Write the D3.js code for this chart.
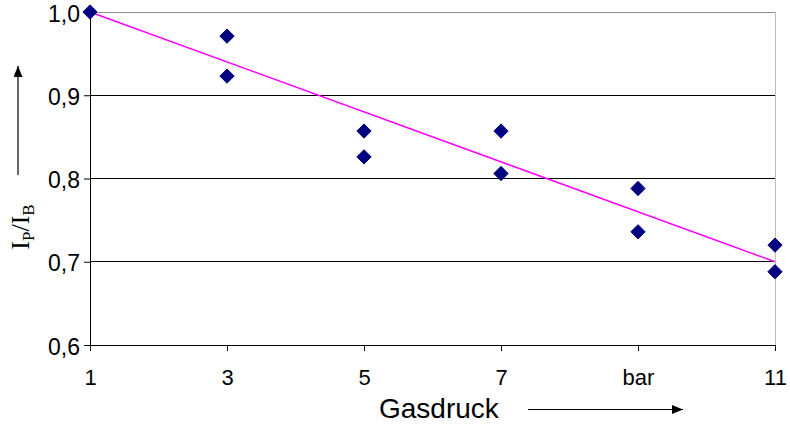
<!DOCTYPE html>
<html><head><meta charset="utf-8">
<script src="https://cdn.jsdelivr.net/npm/d3@7/dist/d3.min.js"></script>
<style>body{margin:0;background:#fff}svg{display:block}</style>
</head><body>
<svg id="c" width="790" height="425"></svg>
<script>
const xValues = [1, 3, 3, 5, 5, 7, 7, 9, 9, 11, 11];
const yValues = [1.0, 0.971, 0.923, 0.857, 0.826, 0.857, 0.806, 0.788, 0.736, 0.720, 0.688];
const trendX = [1, 11];
const trendY = [1.0, 0.70];
const xTicks = [1, 3, 5, 7, 9, 11];
const xTickLabels = ["1", "3", "5", "7", "bar", "11"];
const yTicks = [0.6, 0.7, 0.8, 0.9, 1.0];

const svg = d3.select("#c");
const L = 90, R = 775, T = 12, B = 345;
const x = d3.scaleLinear().domain([1, 11]).range([L, R]);
const y = d3.scaleLinear().domain([0.6, 1.0]).range([B, T]);
const font = "Arial, 'Liberation Sans', sans-serif";

// gridlines
svg.append("g").selectAll("line").data(yTicks.filter(d => d > 0.6 && d < 1.0)).join("line")
  .attr("x1", L).attr("x2", R).attr("y1", d => y(d)).attr("y2", d => y(d))
  .attr("stroke", "#000").attr("stroke-width", 1).attr("shape-rendering", "crispEdges");
// top and right border (gray)
svg.append("line").attr("x1", L).attr("x2", R).attr("y1", y(1.0)).attr("y2", y(1.0))
  .attr("stroke", "#8c8c8c").attr("shape-rendering", "crispEdges");
svg.append("line").attr("x1", R).attr("x2", R).attr("y1", T).attr("y2", B)
  .attr("stroke", "#bdbdbd").attr("shape-rendering", "crispEdges");

// axes
const yAxis = d3.axisLeft(y).tickValues(yTicks).tickSize(6).tickPadding(4)
  .tickFormat(d => d3.format(".1f")(d).replace(".", ","));
const gy = svg.append("g").attr("transform", `translate(${L},0)`).call(yAxis);
gy.attr("font-size", null).attr("font-family", null);
gy.select(".domain").attr("stroke", "#000");
gy.selectAll("text").attr("font-family", font).style("font-size", "23px")
  .attr("dy", "0.4em").attr("fill", "#000");

const xAxis = d3.axisBottom(x).tickValues(xTicks).tickSize(6).tickPadding(18)
  .tickFormat((d, i) => xTickLabels[i]);
const gx = svg.append("g").attr("transform", `translate(0,${B})`).call(xAxis);
gx.attr("font-size", null).attr("font-family", null);
gx.select(".domain").attr("stroke", "#000");
gx.selectAll("text").attr("font-family", font).style("font-size", "22px").attr("fill", "#000");
gx.selectAll(".tick line").attr("stroke", "#000");
gy.selectAll(".tick line").attr("stroke", "#000");

// trend line
svg.append("path")
  .datum(trendX.map((d, i) => [d, trendY[i]]))
  .attr("d", d3.line().x(d => x(d[0])).y(d => y(d[1])))
  .attr("stroke", "#ff00ff").attr("stroke-width", 1.5).attr("fill", "none");

// points
const sym = d3.symbol().type(d3.symbolDiamond2).size(130);
svg.append("g").selectAll("path").data(xValues.map((d, i) => [d, yValues[i]])).join("path")
  .attr("d", sym)
  .attr("transform", d => `translate(${x(d[0])},${y(d[1])})`)
  .attr("fill", "#000080").attr("stroke", "#000080").attr("stroke-width", 1).attr("stroke-linejoin", "round");

// x label + arrow
svg.append("text").attr("x", 379).attr("y", 418).attr("font-family", font).style("font-size", "28px")
  .attr("fill", "#000").text("Gasdruck");
svg.append("defs").append("marker").attr("id", "ah").attr("viewBox", "0 0 10 10")
  .attr("refX", 10).attr("refY", 5).attr("markerWidth", 11).attr("markerHeight", 9)
  .attr("markerUnits", "userSpaceOnUse").attr("orient", "auto")
  .attr("preserveAspectRatio", "none")
  .append("path").attr("d", "M0,0L10,5L0,10Z").attr("fill", "#000");
svg.append("line").attr("x1", 528).attr("x2", 683).attr("y1", 409.5).attr("y2", 409.5)
  .attr("stroke", "#000").attr("stroke-width", 1.2).attr("marker-end", "url(#ah)");

// y label + arrow
const yl = svg.append("text").attr("transform", "translate(29,227) rotate(-90)")
  .attr("text-anchor", "middle").attr("font-family", "'Liberation Serif', 'Times New Roman', serif")
  .style("font-size", "26px").attr("fill", "#000");
yl.append("tspan").text("I");
yl.append("tspan").style("font-size", "17px").attr("dy", 5).text("P");
yl.append("tspan").attr("dy", -5).text("/I");
yl.append("tspan").style("font-size", "17px").attr("dy", 5).text("B");
svg.append("line").attr("x1", 18).attr("x2", 18).attr("y1", 175).attr("y2", 66)
  .attr("stroke", "#000").attr("stroke-width", 1.2).attr("marker-end", "url(#ah)");
</script>
</body></html>
